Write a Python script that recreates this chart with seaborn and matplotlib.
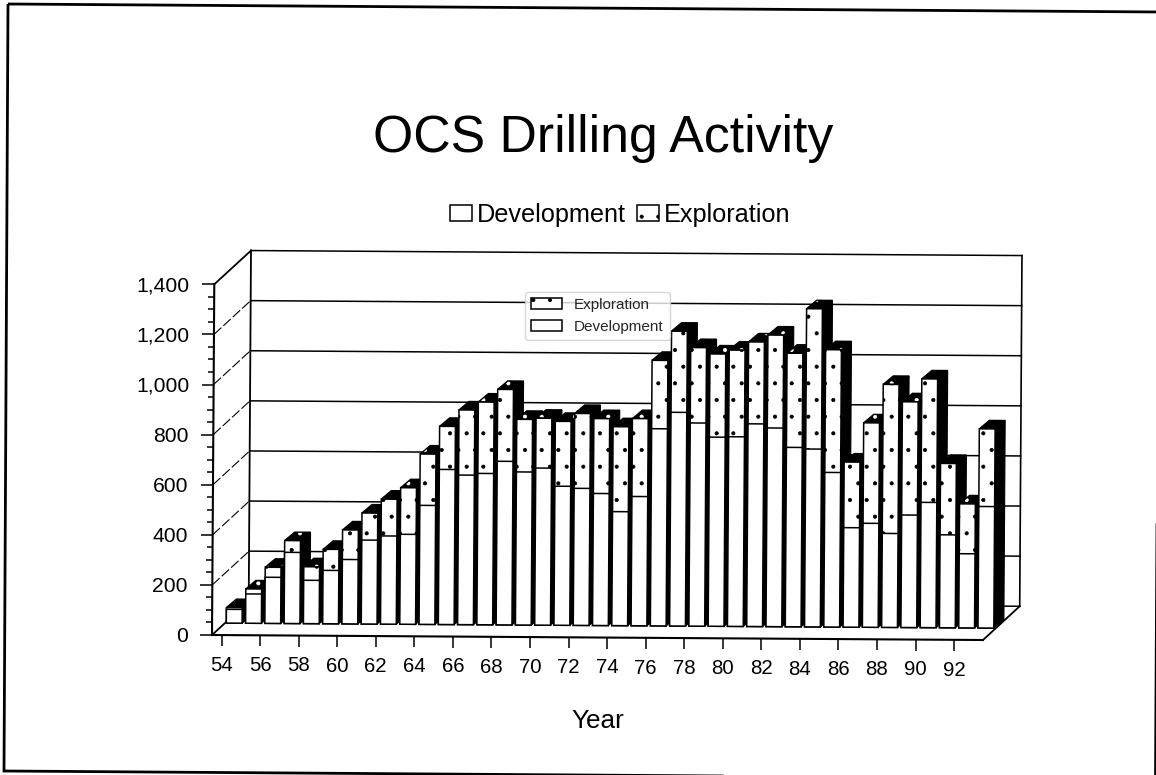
import numpy as np
import matplotlib
matplotlib.use('Agg')
import matplotlib.pyplot as plt
import seaborn as sns
from matplotlib.patches import Polygon
from matplotlib.transforms import Affine2D

years = [str(y) for y in range(54, 94)]
development = [55, 117, 184, 284, 173, 213, 257, 335, 352, 359,
               475, 619, 597, 604, 653, 611, 627, 555, 547, 527,
               455, 516, 787, 853, 811, 755, 757, 809, 793, 716,
               710, 617, 397, 415, 375, 449, 500, 371, 296, 485]
total = [62, 137, 224, 331, 227, 297, 375, 443, 499, 545,
         680, 791, 857, 889, 940, 821, 826, 814, 846, 826,
         794, 827, 1060, 1177, 1112, 1087, 1103, 1136, 1164, 1092,
         1270, 1107, 659, 816, 970, 901, 993, 656, 495, 795]
tick_years = years[::2]
y_ticks = [0, 200, 400, 600, 800, 1000, 1200, 1400]
y_labels = ['0', '200', '400', '600', '800', '1,000', '1,200', '1,400']

W, H = 1156, 775
sns.set_theme(style='white')
plt.rcParams['font.family'] = ['Liberation Sans', 'DejaVu Sans']
plt.rcParams['hatch.linewidth'] = 0.5

fig = plt.figure(figsize=(W / 100, H / 100), dpi=100, facecolor='white')
ax = fig.add_axes([212 / W, 1 - 635 / H, 771 / W, 350.7 / H])
ax.patch.set_visible(False)
for s in ax.spines.values():
    s.set_visible(False)

sns.barplot(x=years, y=total, color='white', saturation=1, width=0.82, edgecolor='black',
            linewidth=1.1, hatch='.', label='Exploration', ax=ax)
sns.barplot(x=years, y=development, color='white', saturation=1, width=0.82, edgecolor='black',
            linewidth=1.1, label='Development', ax=ax)
ax.set_xlim(-0.5, 39.5)
ax.set_ylim(0, 1400)

# scan is a little crooked, everything in the chart leans with it
rot = Affine2D().rotate_around(212, H - 635, -0.0065)
tr = ax.transData + rot

# depth of the box and of the bars, in data units
px_x = 771 / 40
px_y = 350.7 / 1400
box_dx, box_dy = 36.5 / px_x, 34 / px_y
front_dx, front_dy = 12.5 / px_x, 12 / px_y
bar_dx, bar_dy = 10 / px_x, 8.5 / px_y
x0, x1 = -0.5, 39.5


def line(xs, ys, lw=1.1, **kw):
    ax.plot(xs, ys, color='black', lw=lw, transform=tr, clip_on=False,
            solid_capstyle='projecting', zorder=kw.pop('zorder', 1), **kw)


# back wall, floor and grid
for v in y_ticks[1:]:
    line([x0 + box_dx, x1 + box_dx], [v + box_dy, v + box_dy], lw=1.1)
    if v == 1400:
        line([x0, x0 + box_dx], [v, v + box_dy], lw=1.3)
    else:
        line([x0, x0 + box_dx], [v, v + box_dy], lw=0.8, linestyle=(0, (9, 2.5)))
line([x0 + box_dx, x0 + box_dx], [box_dy, 1400 + box_dy], lw=1.3)
line([x1 + box_dx, x1 + box_dx], [box_dy, 1400 + box_dy], lw=1.2)
line([x0 + box_dx, x1 + box_dx], [box_dy, box_dy], lw=1.1)
line([x1, x1 + box_dx], [0, box_dy], lw=1.3, zorder=6)
line([x0, x0 + box_dx], [0, box_dy], lw=1.3)
line([x0, x0], [0, 1400], lw=1.5, zorder=6)
line([x0, x1], [0, 0], lw=1.5, zorder=6)

# faces of the bars, drawn left to right so each one covers the last
shift = Affine2D().translate(front_dx, front_dy) + tr
n = len(years)
bars = ax.patches
for i in range(n):
    top_bar, dev_bar = bars[i], bars[i + n]
    z = 2 + i * 0.01
    top_bar.set_transform(shift)
    dev_bar.set_transform(shift)
    top_bar.set_clip_on(False)
    dev_bar.set_clip_on(False)
    top_bar.set_zorder(z + 0.002)
    dev_bar.set_zorder(z + 0.003)
    xl, w, h = top_bar.get_x(), top_bar.get_width(), top_bar.get_height()
    xr = xl + w
    side = Polygon([(xr, 0), (xr + bar_dx, bar_dy), (xr + bar_dx, h + bar_dy), (xr, h)],
                   fc='black', ec='black', lw=0.8, transform=shift, zorder=z, clip_on=False)
    roof = Polygon([(xl, h), (xr, h), (xr + bar_dx, h + bar_dy), (xl + bar_dx, h + bar_dy)],
                   fc='black', ec='white', lw=0, hatch='.', transform=shift, zorder=z + 0.001,
                   clip_on=False)
    rim = Polygon(roof.get_xy(), fill=False, ec='black', lw=1, transform=shift, zorder=z + 0.001,
                  clip_on=False)
    ax.add_patch(side)
    ax.add_patch(roof)
    ax.add_patch(rim)

# axes
ax.set_xticks(range(0, n, 2), tick_years)
ax.set_yticks(y_ticks, y_labels)
ax.set_yticks(np.arange(0, 1401, 50)[np.arange(0, 1401, 50) % 200 != 0], minor=True)
ax.tick_params(axis='x', bottom=True, length=8, width=1.1, pad=7, labelsize=14.7, colors='black')
ax.tick_params(axis='y', which='major', left=True, length=8.6, width=1.1, pad=9, labelsize=15.2,
               colors='black')
ax.tick_params(axis='y', which='minor', left=True, length=4.3, width=1.1, colors='black')
ax.set_xlabel('Year', fontsize=18.8, color='black', labelpad=21)
ax.set_ylabel('')
ticks = ax.xaxis.get_major_ticks() + ax.yaxis.get_major_ticks() + ax.yaxis.get_minor_ticks()
for t in ticks:
    for art in (t.tick1line, t.label1):
        art.set_transform(art.get_transform() + rot)

handles, labels = ax.get_legend_handles_labels()
leg = fig.legend(handles[::-1], labels[::-1], ncol=2, frameon=False, fontsize=18.2, loc='center',
                 bbox_to_anchor=(620 / W, 1 - 215 / H), handlelength=0.87, handleheight=0.6,
                 handletextpad=0.2, columnspacing=0.45, labelcolor='black')

fig.text(603 / W, 1 - 152 / H, 'OCS Drilling Activity', fontsize=37.3, color='black',
         ha='center', va='baseline')

# outer frame of the slide
px = Affine2D().scale(1, -1).translate(0, H)
fig.add_artist(Polygon([(8, 4), (1160, 12), (1155.5, 779), (4, 771)], closed=True, fill=False,
                       ec='black', lw=2, transform=px))

fig.savefig('out.png', dpi=100)
